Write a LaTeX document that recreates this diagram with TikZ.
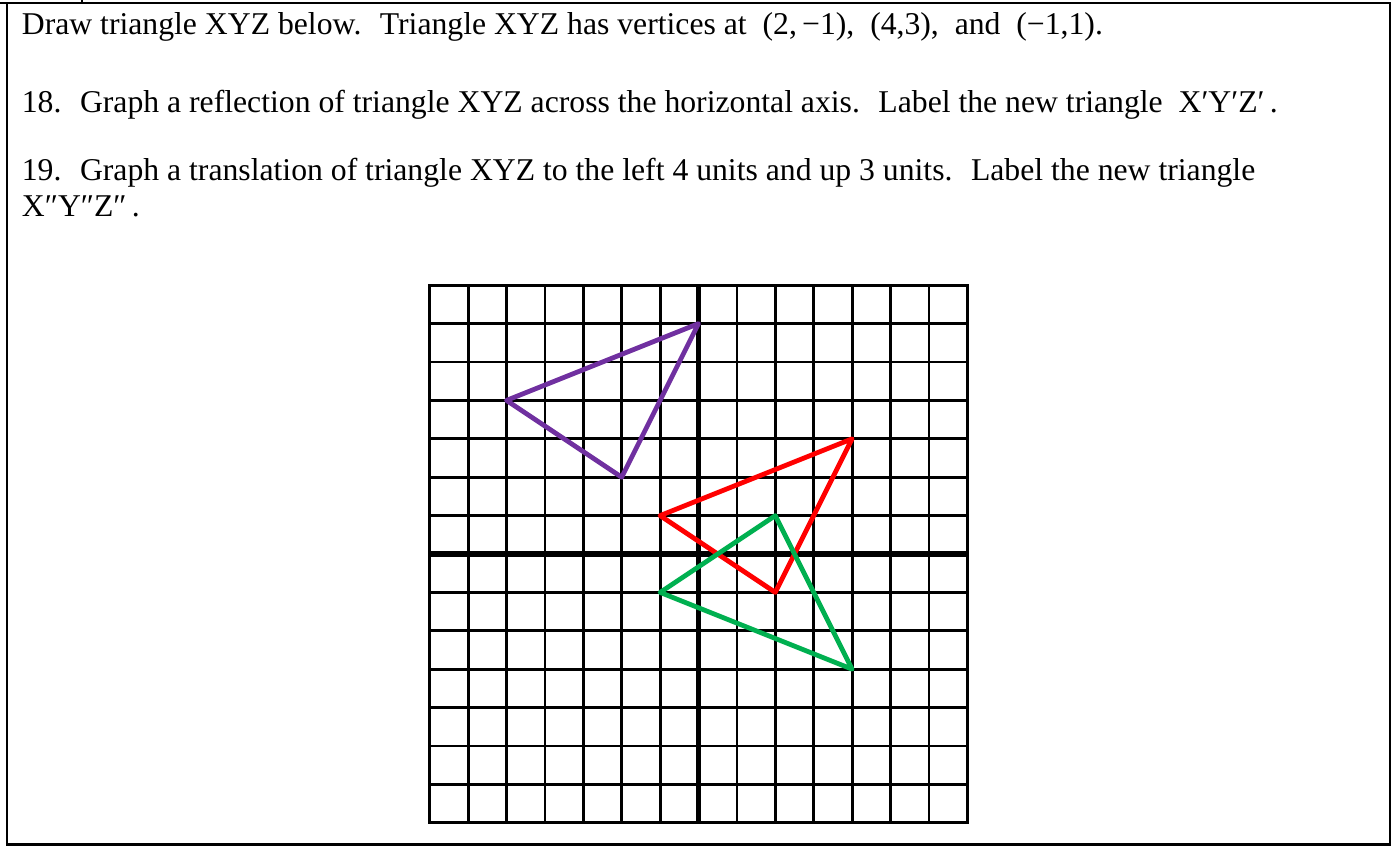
\documentclass[tikz,border=0pt]{standalone}
\usepackage{fontspec}
\setmainfont{Liberation Serif}
\definecolor{trigreen}{RGB}{0,176,80}
\definecolor{tripurple}{RGB}{112,48,160}
\begin{document}
\begin{tikzpicture}[x=1pt,y=-1pt]
\useasboundingbox (0,0) rectangle (1393,846);
\tikzset{
  gridline/.style={line width=2.8pt, line cap=rect},
  axisline/.style={line width=5.5pt, line cap=butt},
  tri/.style={line width=4.8pt, line join=round, line cap=round},
  txt/.style={anchor=base west, inner sep=0pt, font=\fontsize{31.7}{36}\selectfont},
  frameline/.style={line width=2.8pt}
}
% frame
\draw[frameline] (0,3) -- (1390,3) -- (1390,844.5) -- (7,844.5) -- (7,3);
\draw[line width=2pt] (82,0) -- (82,3);
% texts
\node[txt] (t1) at (21.7,34) {Draw triangle XYZ below.~ Triangle XYZ has vertices at~ (2,\,−1),~ (4,3),~ and~ (−1,1).};
\node[txt] (t2) at (21.7,112) {18.~ Graph a reflection of triangle XYZ across the horizontal axis.~ Label the new triangle~ X′Y′Z′\,.};
\node[txt] (t3) at (21.7,180) {19.~ Graph a translation of triangle XYZ to the left 4 units and up 3 units.~ Label the new triangle};
\node[txt] (t4) at (21.7,216) {X″Y″Z″\,.};
% grid
\begin{scope}[shift={(698.5,554)}, x=38.4pt, y=38.4pt]
  \foreach \i in {-7,...,7} {
    \draw[gridline] (\i,-7) -- (\i,7);
    \draw[gridline] (-7,\i) -- (7,\i);
  }
  \draw[axisline] (0,-7) -- (0,7);
  \draw[axisline] (-7,0) -- (7,0);
  % original triangle XYZ
  \coordinate (X) at (2,-1);
  \coordinate (Y) at (4,3);
  \coordinate (Z) at (-1,1);
  % reflection X'Y'Z'
  \coordinate (X1) at (2,1);
  \coordinate (Y1) at (4,-3);
  \coordinate (Z1) at (-1,-1);
  % translation X''Y''Z''
  \coordinate (X2) at (-2,2);
  \coordinate (Y2) at (0,6);
  \coordinate (Z2) at (-5,4);
  \draw[tri, red] (X) -- (Y) -- (Z) -- cycle;
  \draw[tri, trigreen] (X1) -- (Y1) -- (Z1) -- cycle;
  \draw[tri, tripurple] (X2) -- (Y2) -- (Z2) -- cycle;
\end{scope}
\end{tikzpicture}
\end{document}
